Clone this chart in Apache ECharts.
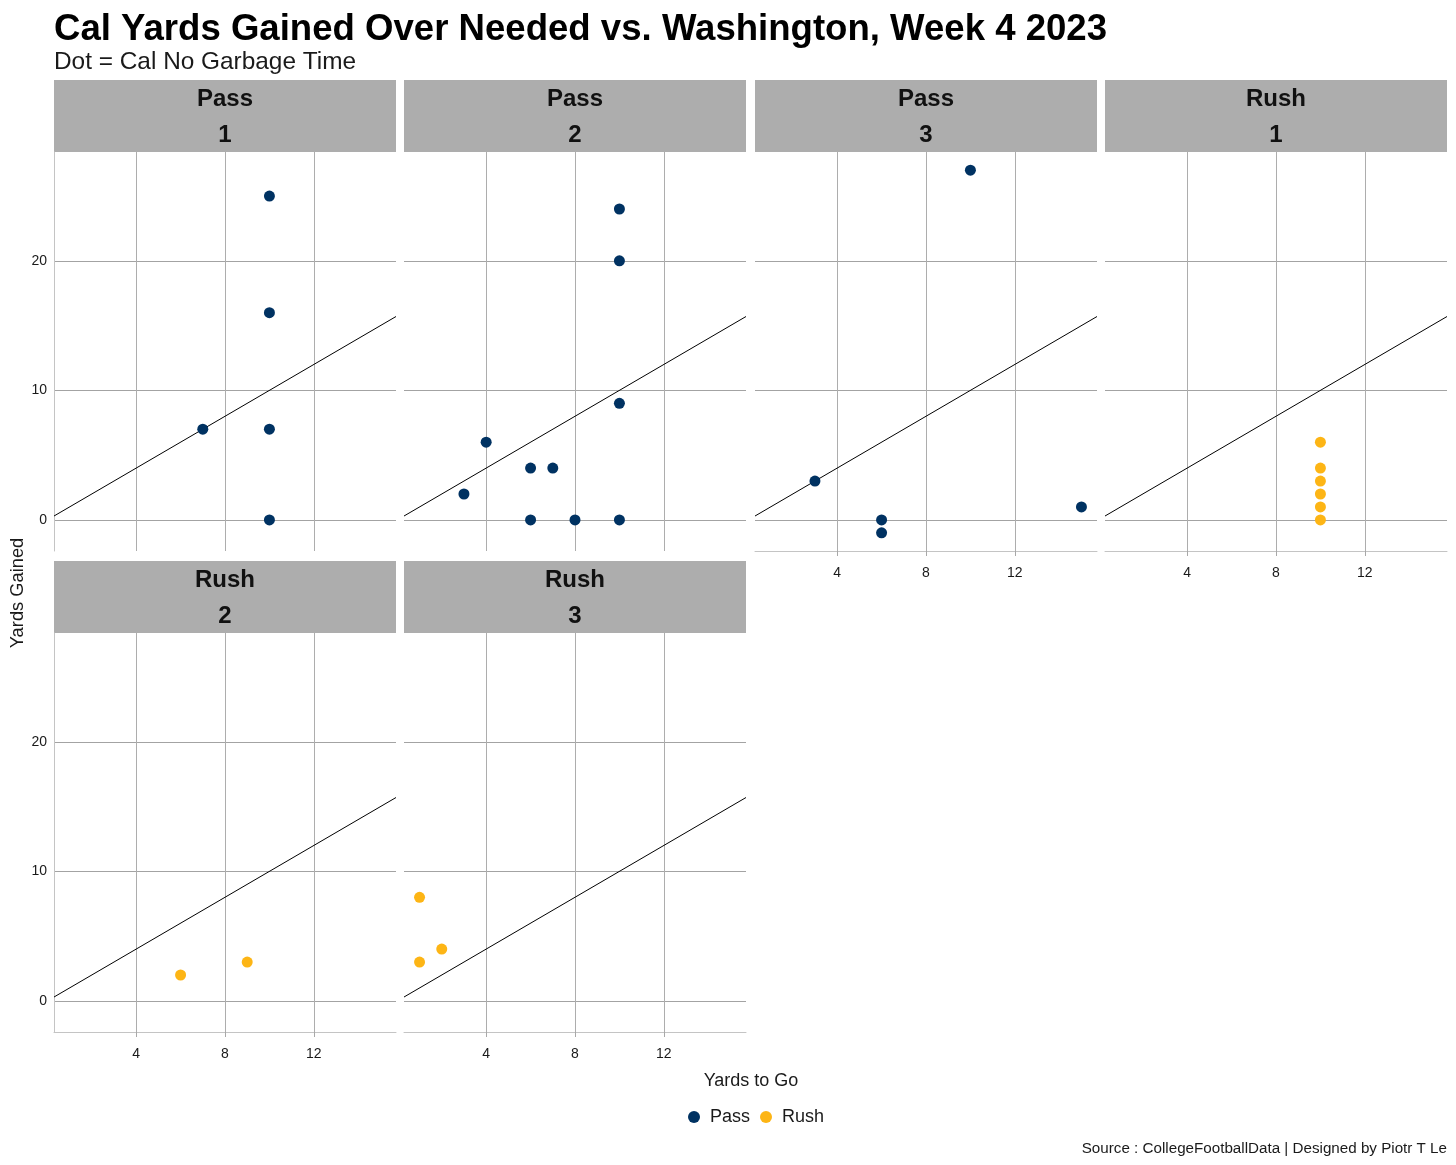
<!DOCTYPE html>
<html><head><meta charset="utf-8">
<script src="https://cdn.jsdelivr.net/npm/echarts@6/dist/echarts.min.js"></script>
<style>html,body{margin:0;padding:0;background:#fff}#c{width:1456px;height:1165px}</style>
</head><body><div id="c"></div>
<script>
// ---- data ----
const panelTypes = ['Pass', 'Pass', 'Pass', 'Rush', 'Rush', 'Rush'];
const panelDowns = ['1', '2', '3', '1', '2', '3'];
const pass1Points = [[10, 25], [10, 16], [7, 7], [10, 7], [10, 0]];
const pass2Points = [[10, 24], [10, 20], [4, 6], [3, 2], [6, 4], [7, 4], [6, 0], [8, 0], [10, 0], [10, 9]];
const pass3Points = [[10, 27], [3, 3], [6, 0], [6, -1], [15, 1]];
const rush1Points = [[10, 6], [10, 4], [10, 3], [10, 2], [10, 1], [10, 0]];
const rush2Points = [[6, 2], [9, 3]];
const rush3Points = [[1, 8], [1, 3], [2, 4]];
const xTicks = [4, 8, 12];
const yTicks = [0, 10, 20];
const xRange = [0.3, 15.7];
const yRange = [-2.4, 28.4];

const panelPoints = [pass1Points, pass2Points, pass3Points, rush1Points, rush2Points, rush3Points];
const typeColors = { Pass: '#003262', Rush: '#FDB515' };

// ---- layout ----
const colLeft = [54, 404, 755, 1105];
const panelW = 342;
const rowTop = [152, 633];
const panelH = 399;
const stripH = 72;
const font = '"Liberation Sans", Arial, sans-serif';

const grids = [], xAxes = [], yAxes = [], series = [], graphics = [];
panelPoints.forEach((pts, i) => {
  const col = i % 4, row = Math.floor(i / 4);
  const showX = row === 1 || col >= 2;
  const showY = col === 0;
  grids.push({ left: colLeft[col], top: rowTop[row], width: panelW, height: panelH, containLabel: false });
  xAxes.push({
    type: 'value', gridIndex: i, min: xRange[0], max: xRange[1],
    axisLine: { show: showX, onZero: false, lineStyle: { color: '#C4C4C4', width: 1 } },
    axisTick: { show: showX, customValues: xTicks, length: 5, lineStyle: { color: '#A8A8A8' } },
    axisLabel: { show: showX, customValues: xTicks, color: '#1a1a1a', fontSize: 14, fontFamily: font, margin: 15 },
    splitLine: { show: true, customValues: xTicks, lineStyle: { color: '#ADADAD', width: 1 } }
  });
  yAxes.push({
    type: 'value', gridIndex: i, min: yRange[0], max: yRange[1],
    axisLine: { show: showY, onZero: false, lineStyle: { color: '#C4C4C4', width: 1 } },
    axisTick: { show: false, customValues: yTicks },
    axisLabel: { show: showY, customValues: yTicks, color: '#1a1a1a', fontSize: 14, fontFamily: font, margin: 7 },
    splitLine: { show: true, customValues: yTicks, lineStyle: { color: '#A3A3A3', width: 1 } }
  });
  series.push({
    type: 'line', xAxisIndex: i, yAxisIndex: i, silent: true, symbol: 'none', z: 2,
    data: [[xRange[0], xRange[0]], [xRange[1], xRange[1]]],
    lineStyle: { color: '#000', width: 1 }, animation: false
  });
  series.push({
    type: 'scatter', name: panelTypes[i], xAxisIndex: i, yAxisIndex: i, z: 3,
    data: pts, symbol: 'circle', symbolSize: 11,
    itemStyle: { color: typeColors[panelTypes[i]], opacity: 1 }, animation: false
  });
  // strip
  graphics.push({
    type: 'rect', left: colLeft[col], top: rowTop[row] - stripH,
    shape: { width: panelW, height: stripH }, style: { fill: '#ADADAD' }, silent: true
  });
  graphics.push({
    type: 'text', x: colLeft[col] + panelW / 2, y: rowTop[row] - stripH / 2 + 1.5,
    style: {
      text: panelTypes[i] + '\n' + panelDowns[i], fill: '#111', font: 'bold 24px ' + font,
      align: 'center', verticalAlign: 'middle', lineHeight: 36
    }, silent: true
  });
});

graphics.push({
  type: 'text', x: 18, y: 593, rotation: Math.PI / 2,
  style: { text: 'Yards Gained', fill: '#1a1a1a', font: '18.3px ' + font, align: 'center', verticalAlign: 'middle' }
});
graphics.push({
  type: 'text', x: 751, y: 1081,
  style: { text: 'Yards to Go', fill: '#1a1a1a', font: '18px ' + font, align: 'center', verticalAlign: 'middle' }
});
graphics.push({
  type: 'text', x: 1447, y: 1149,
  style: { text: 'Source : CollegeFootballData | Designed by Piotr T Le', fill: '#1a1a1a', font: '15.2px ' + font, align: 'right', verticalAlign: 'middle' }
});

const chart = echarts.init(document.getElementById('c'), null, { renderer: 'canvas' });
chart.setOption({
  backgroundColor: '#fff',
  animation: false,
  title: [
    { text: 'Cal Yards Gained Over Needed vs. Washington, Week 4 2023', left: 54, top: 11, padding: 0,
      textStyle: { fontSize: 36.6, fontWeight: 'bold', color: '#000', fontFamily: font } },
    { text: 'Dot = Cal No Garbage Time', left: 54, top: 50, padding: 0,
      textStyle: { fontSize: 24.4, fontWeight: 'normal', color: '#1a1a1a', fontFamily: font } }
  ],
  legend: {
    data: ['Pass', 'Rush'], left: 688, top: 1108, padding: 0, icon: 'circle', itemWidth: 22, itemHeight: 12,
    itemGap: 10, textStyle: { fontSize: 18, color: '#1a1a1a', fontFamily: font }
  },
  grid: grids, xAxis: xAxes, yAxis: yAxes, series: series, graphic: graphics
});
</script></body></html>
